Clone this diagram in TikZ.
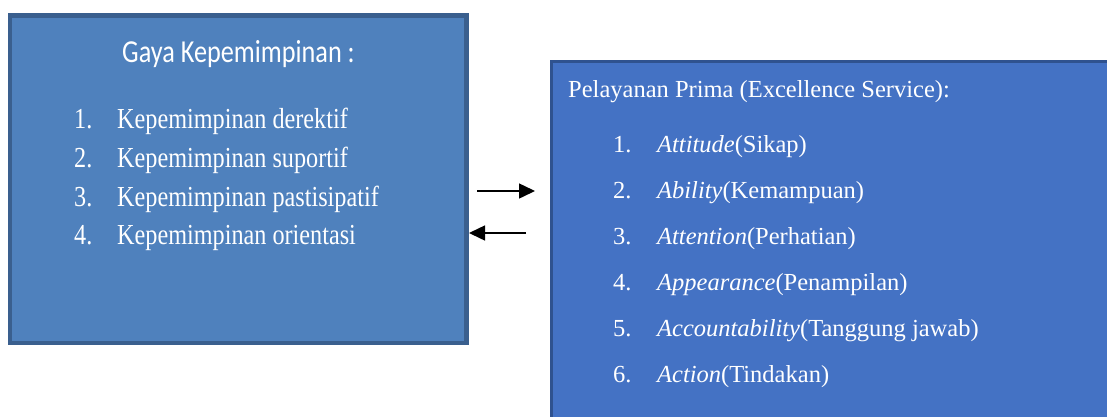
\documentclass[tikz,border=0pt]{standalone}
\usepackage{fontspec}
\setmainfont{Liberation Serif}
\newfontfamily\carlito{Carlito}
\usetikzlibrary{arrows.meta}
\definecolor{leftfill}{HTML}{4F81BD}
\definecolor{leftdraw}{HTML}{3A5F8E}
\definecolor{rightfill}{HTML}{4472C4}
\definecolor{rightdraw}{HTML}{2F528F}
\newcommand{\lsq}[1]{\scalebox{0.835}[1]{#1}}
\tikzset{
  ltitle/.style={text=white, font=\carlito\fontsize{32}{36}\selectfont, inner sep=0pt, anchor=base},
  litem/.style={text=white, font=\fontsize{29}{33}\selectfont, inner sep=0pt, anchor=base west},
  ritem/.style={text=white, font=\fontsize{24.5}{28}\selectfont, inner sep=0pt, anchor=base west},
  conn/.style={line width=1.5pt, -{Triangle[length=16pt,width=15pt]}}
}
\begin{document}
\begin{tikzpicture}[x=1pt,y=-1pt]
\useasboundingbox (0,0) rectangle (1107,416);
\begin{scope}
\clip (0,0) rectangle (1107,416);
% left box
\draw[fill=leftfill, draw=leftdraw, line width=4.5pt] (10,15.5) rectangle (466.5,343) ;
\node[ltitle] (lt) at (238.5,62) {\scalebox{0.82}[1]{Gaya Kepemimpinan :}};
\node[litem] (ln1) at (74,128) {\lsq{1.}};
\node[litem] (li1) at (117,128) {\lsq{Kepemimpinan derektif}};
\node[litem] (ln2) at (74,167) {\lsq{2.}};
\node[litem] (li2) at (117,167) {\lsq{Kepemimpinan suportif}};
\node[litem] (ln3) at (74,206) {\lsq{3.}};
\node[litem] (li3) at (117,206) {\lsq{Kepemimpinan pastisipatif}};
\node[litem] (ln4) at (74,244) {\lsq{4.}};
\node[litem] (li4) at (117,244) {\lsq{Kepemimpinan orientasi}};
% right box
\draw[fill=rightfill, draw=rightdraw, line width=3pt] (551,61.5) rectangle (1120,430);
\node[ritem] (rt) at (568,97) {Pelayanan Prima (Excellence Service):};
\node[ritem] (rn1) at (613,152) {1.};
\node[ritem] (ri1) at (657,152) {\textit{Attitude}(Sikap)};
\node[ritem] (rn2) at (613,198) {2.};
\node[ritem] (ri2) at (657,198) {\textit{Ability}(Kemampuan)};
\node[ritem] (rn3) at (613,244) {3.};
\node[ritem] (ri3) at (657,244) {\textit{Attention}(Perhatian)};
\node[ritem] (rn4) at (613,290) {4.};
\node[ritem] (ri4) at (657,290) {\textit{Appearance}(Penampilan)};
\node[ritem] (rn5) at (613,336) {5.};
\node[ritem] (ri5) at (657,336) {\textit{Accountability}(Tanggung jawab)};
\node[ritem] (rn6) at (613,382) {6.};
\node[ritem] (ri6) at (657,382) {\textit{Action}(Tindakan)};
% arrows
\coordinate (a1s) at (477,191);
\coordinate (a1e) at (535,191);
\coordinate (a2s) at (526,233);
\coordinate (a2e) at (469,233);
\draw[conn] (a1s) -- (a1e);
\draw[conn] (a2s) -- (a2e);
\end{scope}
\end{tikzpicture}
\end{document}
